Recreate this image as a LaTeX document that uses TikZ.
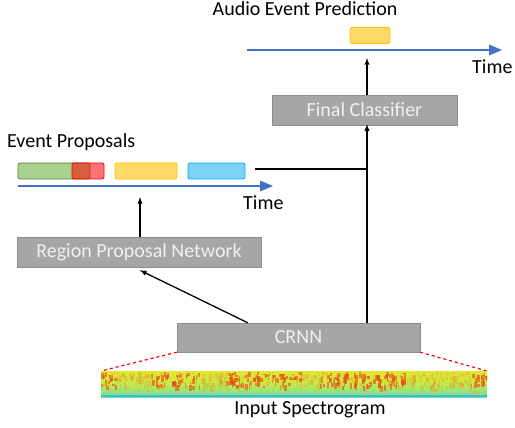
\documentclass[tikz,border=0pt]{standalone}
\usepackage{fontspec}
\setmainfont{Carlito}
\usetikzlibrary{arrows,calc,positioning}
\definecolor{boxgray}{RGB}{166,166,166}
\definecolor{boxline}{RGB}{140,140,140}
\definecolor{axisblue}{RGB}{68,114,196}
\definecolor{evgreen}{RGB}{169,209,142}
\definecolor{evgreenl}{RGB}{84,130,53}
\definecolor{evyellow}{RGB}{255,217,102}
\definecolor{evyellowl}{RGB}{255,192,0}
\definecolor{evblue}{RGB}{125,211,245}
\definecolor{evbluel}{RGB}{0,176,240}
\definecolor{spred}{RGB}{235,70,20}
\definecolor{sporange}{RGB}{250,160,30}
\definecolor{sptop}{RGB}{225,230,45}
\definecolor{spmid}{RGB}{195,235,75}
\definecolor{spbot}{RGB}{110,220,170}
\definecolor{spblue}{RGB}{40,170,235}

\begin{document}
\begin{tikzpicture}[x=1pt, y=-1pt,
                        net/.style    ={rectangle,draw=boxline,fill=boxgray, text=white!94!black, inner sep=0, font=\fontsize{20}{24}\selectfont},
                        evt/.style    ={rectangle,rounded corners=2pt, line width=0.8pt, minimum height=16pt, inner sep=0},
                        axis/.style   ={-triangle 45, draw=axisblue, line width=2pt},
                        flow/.style   ={-latex, draw=black, line width=1.3pt},
                        label/.style  ={rectangle, inner sep=0, font=\fontsize{20}{24}\selectfont}]

      \useasboundingbox (0,0) rectangle (515,428);

      \node[net, minimum width=185pt, minimum height=30pt] at(364.5,110)   (final) {Final Classifier};
      \node[net, minimum width=244pt, minimum height=30pt] at(139,252)     (rpn)   {Region Proposal Network};
      \node[net, minimum width=243pt, minimum height=29pt] at(298.5,337.5) (crnn)  {CRNN};

      \coordinate (taxs) at(247, 50);
      \coordinate (taxe) at(502, 50);
      \coordinate (eaxs) at(18, 186);
      \coordinate (eaxe) at(273, 186);
      \path[axis] (taxs) -- (taxe);
      \path[axis] (eaxs) -- (eaxe);
      \node[label] at(305, 9)    (predlbl) {Audio Event Prediction};
      \node[label, anchor=west] at($(taxe)+(-30,17)$) (ttime) {Time};
      \node[label, anchor=west] at(7, 142) (proplbl) {Event Proposals};
      \node[label, anchor=west] at($(eaxe)+(-30,17)$) (etime) {Time};

      \node[evt, fill=evyellow, draw=evyellowl, minimum width=40pt] at(370, 35.5) (pred) {};
      \node[evt, fill=evgreen,  draw=evgreenl,  minimum width=72pt] at(54, 171)   (ev1)  {};
      \node[evt, fill=red, fill opacity=0.55, draw=red, minimum width=32pt] at(88, 171) (ev2) {};
      \node[evt, fill=evyellow, draw=evyellowl, minimum width=62pt] at(146, 171)  (ev3)  {};
      \node[evt, fill=evblue,   draw=evbluel,   minimum width=57pt] at(216.5, 171) (ev4) {};

      \coordinate (join) at(367, 169);
      \coordinate (rpnin) at(140, 197);
      \path[flow] (crnn.north -| join) -- ($(final.south -| join)+(0,-1)$);
      \path[flow] (final.north -| join) -- ($(taxs -| join)+(0,8)$);
      \path[draw, line width=1.3pt] ($(ev4.east)+(10,-2)$) -- (join);
      \path[flow] (rpn.north -| rpnin) -- (rpnin);
      \path[flow] ($(crnn.north west)+(71,0)$) -- ($(rpn.south west)+(123,3)$);

      \coordinate (spnw) at(101, 371);
      \coordinate (spse) at(487, 397);
      \path[draw=red, dashed, line width=1.2pt] (crnn.south west) -- (spnw);
      \path[draw=red, dashed, line width=1.2pt] (crnn.south east) -- (spnw -| spse);
      \begin{scope}
        \clip (spnw) rectangle (spse);
        \shade[top color=sptop, bottom color=spbot, middle color=spmid] (spnw) rectangle (spse);
        \fill[spblue, opacity=0.7] ($(spnw |- spse)+(0,-2)$) rectangle (spse);
        \pgfmathsetseed{11}
        \foreach \i in {1,...,420}{
          \pgfmathsetmacro{\sx}{101+386*rnd}
          \pgfmathsetmacro{\sy}{372+14*rnd}
          \pgfmathsetmacro{\sw}{1+2.5*rnd}
          \pgfmathsetmacro{\sh}{1.5+5*rnd}
          \pgfmathsetmacro{\dens}{(\sx<115 || (\sx>150 && \sx<200) || (\sx>225 && \sx<300) || (\sx>320 && \sx<405) || (\sx>470)) ? 0.6 : 0.15}
          \fill[spred, opacity=\dens] (\sx,\sy) rectangle ++(\sw,\sh);
        }
        \foreach \i in {1,...,200}{
          \pgfmathsetmacro{\sx}{101+386*rnd}
          \pgfmathsetmacro{\sy}{371+20*rnd}
          \fill[sporange, opacity=0.45] (\sx,\sy) rectangle ++(1.5,3);
        }
      \end{scope}
      \node[label] at(310, 410) (speclbl) {Input Spectrogram};
    \end{tikzpicture}
\end{document}
